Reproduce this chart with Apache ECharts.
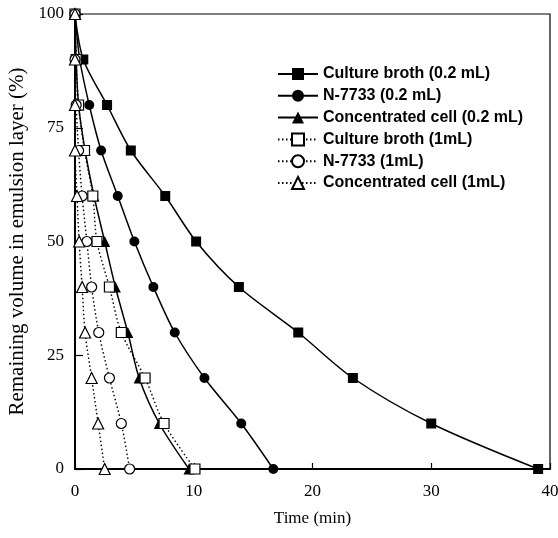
<!DOCTYPE html>
<html>
<head>
<meta charset="utf-8">
<script src="https://cdn.jsdelivr.net/npm/echarts@6/dist/echarts.min.js"></script>
<style>
  html, body { margin: 0; padding: 0; background: #fff; }
  #main { width: 558px; height: 538px; }
</style>
</head>
<body>
<div id="main"></div>
<script>
// remaining volume levels (%), shared by every series
var levels = [100, 90, 80, 70, 60, 50, 40, 30, 20, 10, 0];

// time (min) at which each level was reached
var brothSmall = [0, 0.7, 2.7, 4.7, 7.6, 10.2, 13.8, 18.8, 23.4, 30.0, 39.0];
var n7733Small = [0, 0.4, 1.2, 2.2, 3.6, 5.0, 6.6, 8.4, 10.9, 14.0, 16.7];
var cellSmall = [0, 0.1, 0.3, 0.85, 1.6, 2.5, 3.4, 4.45, 5.4, 7.1, 9.6];
var brothLarge = [0, 0.1, 0.3, 0.8, 1.5, 1.85, 2.9, 3.9, 5.9, 7.5, 10.1];
var n7733Large = [0, 0, 0.1, 0.3, 0.6, 1.0, 1.4, 2.0, 2.9, 3.9, 4.6];
var cellLarge = [0, 0, 0, 0, 0.17, 0.35, 0.6, 0.85, 1.4, 1.95, 2.5];

var names = [
  'Culture broth (0.2 mL)',
  'N-7733 (0.2 mL)',
  'Concentrated cell (0.2 mL)',
  'Culture broth (1mL)',
  'N-7733 (1mL)',
  'Concentrated cell (1mL)'
];

function pairs(times) {
  return times.map(function (t, i) { return [t, levels[i]]; });
}

function makeSeries(name, times, symbol, open) {
  return {
    name: name,
    type: 'line',
    data: pairs(times),
    symbol: symbol,
    symbolSize: symbol === 'triangle' ? 11 : 10,
    smooth: 0.3,
    lineStyle: {
      color: '#000',
      width: open ? 1.4 : 1.5,
      type: open ? [1.5, 2.5] : 'solid'
    },
    itemStyle: {
      color: open ? '#fff' : '#000',
      borderColor: '#000',
      borderWidth: open ? 1.2 : 0
    },
    emphasis: { disabled: true }
  };
}

var chart = echarts.init(document.getElementById('main'));

var option = {
  animation: false,
  backgroundColor: '#fff',
  grid: {
    left: 75, right: 8, top: 14, bottom: 69,
    outerBoundsMode: 'none',
    containLabel: false,
    show: true, borderColor: '#000', borderWidth: 1.2
  },
  legend: {
    orient: 'vertical',
    left: 272, top: 61,
    itemWidth: 40, itemHeight: 15, itemGap: 5.8,
    itemTextGap: 10,
    data: names,
    textStyle: {
      fontFamily: 'Liberation Sans', fontSize: 16, fontWeight: 'bold',
      color: '#000'
    }
  },
  xAxis: {
    type: 'value',
    min: 0, max: 40, interval: 10,
    name: 'Time (min)',
    nameLocation: 'middle',
    nameGap: 41,
    nameTextStyle: { fontFamily: 'Liberation Serif', fontSize: 17, color: '#000' },
    axisLine: { lineStyle: { color: '#000', width: 2 } },
    axisTick: { inside: true, length: 6, lineStyle: { color: '#000', width: 1.2 } },
    axisLabel: { fontFamily: 'Liberation Serif', fontSize: 17, color: '#000', margin: 14 },
    splitLine: { show: false }
  },
  yAxis: {
    type: 'value',
    min: 0, max: 100, interval: 25,
    name: 'Remaining volume in emulsion layer (%)',
    nameLocation: 'middle',
    nameGap: 45,
    nameTextStyle: { fontFamily: 'Liberation Serif', fontSize: 21, color: '#000' },
    axisLine: { lineStyle: { color: '#000', width: 2 } },
    axisTick: { inside: true, length: 8, lineStyle: { color: '#000', width: 1.2 } },
    axisLabel: { fontFamily: 'Liberation Serif', fontSize: 17, color: '#000', margin: 11 },
    splitLine: { show: false }
  },
  series: [
    makeSeries(names[0], brothSmall, 'rect', false),
    makeSeries(names[1], n7733Small, 'circle', false),
    makeSeries(names[2], cellSmall, 'triangle', false),
    makeSeries(names[3], brothLarge, 'rect', true),
    makeSeries(names[4], n7733Large, 'circle', true),
    makeSeries(names[5], cellLarge, 'triangle', true)
  ]
};

chart.setOption(option);
</script>
</body>
</html>
